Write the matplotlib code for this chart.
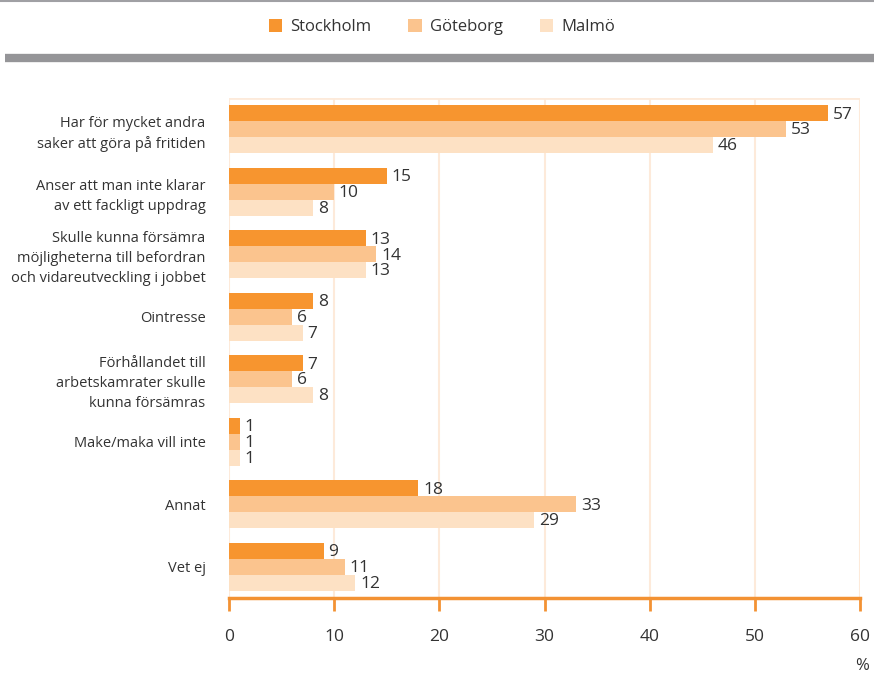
import matplotlib
matplotlib.use("Agg")
from matplotlib import pyplot as plt
from matplotlib.patches import Patch
import numpy as np

plt.rcParams["font.family"] = ["Open Sans", "DejaVu Sans"]

categories = [
    "Har för mycket andra\nsaker att göra på fritiden",
    "Anser att man inte klarar\nav ett fackligt uppdrag",
    "Skulle kunna försämra\nmöjligheterna till befordran\noch vidareutveckling i jobbet",
    "Ointresse",
    "Förhållandet till\narbetskamrater skulle\nkunna försämras",
    "Make/maka vill inte",
    "Annat",
    "Vet ej",
]
series_names = ["Stockholm", "Göteborg", "Malmö"]
stockholm = [57, 15, 13, 8, 7, 1, 18, 9]
goteborg = [53, 10, 14, 6, 6, 1, 33, 11]
malmo = [46, 8, 13, 7, 8, 1, 29, 12]
xticks = [0, 10, 20, 30, 40, 50, 60]

colors = ["#F7952F", "#FBC48E", "#FDE1C4"]
orange = "#F39233"
grid_col = "#FDEADA"
text_col = "#333333"

fig = plt.figure(figsize=(8.74, 6.75), dpi=100)
ax = fig.add_axes([229 / 874, 1 - 598 / 675, 631 / 874, 500 / 675])

y = np.arange(len(categories))
h = 0.255
for i, (vals, col) in enumerate(zip([stockholm, goteborg, malmo], colors)):
    pos = y + (i - 1) * h
    ax.barh(pos, vals, height=h, color=col, zorder=2)
    for p, v in zip(pos, vals):
        ax.text(v + 0.45, p + 0.02, str(v), va="center", ha="left", fontsize=12.5, color=text_col)

ax.set_xlim(0, 60)
ax.set_ylim(len(categories) - 0.5, -0.5)
ax.set_yticks(y)
ax.set_yticklabels(categories, fontsize=10.5, color=text_col, linespacing=1.45)
ax.tick_params(axis="y", length=0, pad=17)
ax.set_xticks(xticks)
ax.set_xticklabels([str(t) for t in xticks], fontsize=12.5, color=text_col)
ax.tick_params(axis="x", length=9, width=2, color=orange, pad=13, direction="out")

for x in xticks:
    ax.axvline(x, color=grid_col, lw=1.5, zorder=1)
ax.axhline(-0.5, color=grid_col, lw=2, zorder=1)

for s in ["top", "right", "left"]:
    ax.spines[s].set_visible(False)
ax.spines["bottom"].set_color(orange)
ax.spines["bottom"].set_linewidth(2.5)

fig.text(862 / 874, 1 - 666 / 675, "%", ha="center", va="center", fontsize=12, color=text_col)

# top decoration lines
fig.add_artist(plt.Line2D([0, 1], [1 - 1 / 675, 1 - 1 / 675], color="#A0A0A4", lw=1.5,
                          solid_capstyle="butt"))
fig.add_artist(plt.Line2D([5 / 874, 1], [1 - 58 / 675, 1 - 58 / 675], color="#959598", lw=6,
                          solid_capstyle="butt"))

handles = [Patch(facecolor=c, edgecolor="none") for c in colors]
fig.legend(handles, series_names, loc="center", bbox_to_anchor=(442 / 874, 1 - 27 / 675),
           ncol=3, frameon=False, fontsize=12, handlelength=0.8, handleheight=0.8,
           columnspacing=2.2, handletextpad=0.5, labelcolor=text_col)

fig.savefig("out.png", dpi=100)
